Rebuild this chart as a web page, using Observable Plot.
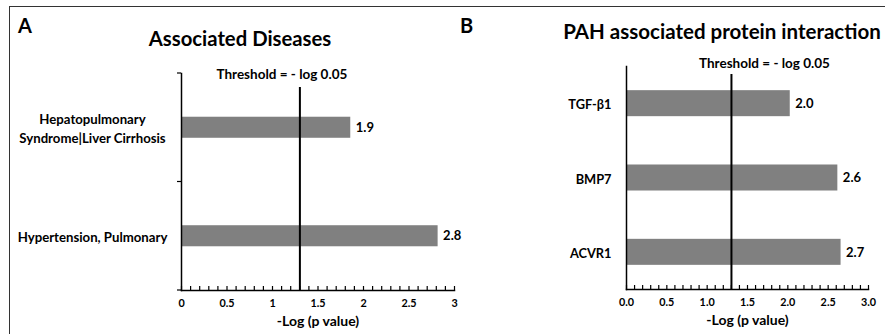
<!DOCTYPE html>
<html><head><meta charset="utf-8">
<script src="https://cdn.jsdelivr.net/npm/d3@7"></script>
<script src="https://cdn.jsdelivr.net/npm/@observablehq/plot@0.6"></script>
<style>
body{margin:0;width:885px;height:334px;overflow:hidden;background:#fff;font-family:Lato,"Open Sans",sans-serif;font-weight:bold;color:#000;position:relative}
.abs{position:absolute;white-space:nowrap;line-height:1}
#border{position:absolute;left:9px;top:6px;width:900px;height:400px;border-left:1.5px solid #333;border-top:1.5px solid #333}
.panel{position:absolute}
</style></head><body>
<div id="border"></div>
<div class="abs" id="letterA" style="left:18px;top:15px;font-size:20px"></div>
<div class="abs" id="letterB" style="left:460px;top:15px;font-size:20px"></div>
<div class="abs" id="titleA" style="left:240px;top:28px;font-size:20.3px;transform:translateX(-50%)"></div>
<div class="abs" id="titleB" style="left:722px;top:21px;font-size:20.5px;transform:translateX(-50%)"></div>
<div class="panel" id="panelA" style="left:0;top:60px"></div>
<div class="panel" id="panelB" style="left:470px;top:55px"></div>
<script>
// ---- data ----
const panelLetters = ["A", "B"];
const panelTitles = ["Associated Diseases", "PAH associated protein interaction"];
const diseaseNames = ["Hepatopulmonary\nSyndrome|Liver Cirrhosis", "Hypertension, Pulmonary"];
const diseaseScores = [1.86, 2.82];
const diseaseLabels = ["1.9", "2.8"];
const proteinNames = ["TGF-β1", "BMP7", "ACVR1"];
const proteinScores = [2.03, 2.62, 2.66];
const proteinLabels = ["2.0", "2.6", "2.7"];
const xTicks = [0, 0.5, 1, 1.5, 2, 2.5, 3];
const xTickLabelsA = ["0", "0.5", "1", "1.5", "2", "2.5", "3"];
const xTickLabelsB = ["0.0", "0.5", "1.0", "1.5", "2.0", "2.5", "3.0"];
const minorTicks = [0,0.1,0.2,0.3,0.4,0.5,0.6,0.7,0.8,0.9,1,1.1,1.2,1.3,1.4,1.5,1.6,1.7,1.8,1.9,2,2.1,2.2,2.3,2.4,2.5,2.6,2.7,2.8,2.9,3];
const threshold = -Math.log10(0.05);
const thresholdLabel = "Threshold = - log 0.05";
const xLabel = "-Log (p value)";

document.getElementById("letterA").textContent = panelLetters[0];
document.getElementById("letterB").textContent = panelLetters[1];
document.getElementById("titleA").textContent = panelTitles[0];
document.getElementById("titleB").textContent = panelTitles[1];

function panel(o) {
  const data = o.names.map((n, i) => ({name: n, value: o.scores[i], label: o.labels[i]}));
  const plotH = o.height - o.marginTop - o.marginBottom;
  const chart = Plot.plot({
    width: o.width, height: o.height,
    marginLeft: o.marginLeft, marginRight: o.marginRight, marginTop: o.marginTop, marginBottom: o.marginBottom,
    style: {fontFamily: "Lato, 'Open Sans', sans-serif", fontWeight: "bold", color: "#000", background: "transparent", overflow: "visible"},
    x: {domain: [0, 3], axis: null},
    y: {domain: o.names, type: "band", paddingInner: o.padding, paddingOuter: o.padding / 2, round: false, axis: null},
    marks: [
      Plot.barX(data, {x: "value", y: "name", fill: "#808080"}),
      Plot.text(data, {x: "value", y: "name", text: "label", textAnchor: "start", dx: 5, fontSize: 13, fontWeight: "bold", fill: "#000"}),
      Plot.axisY({tickSize: 0, tickPadding: o.yPad, textAnchor: o.yAnchor, lineHeight: 1.4, fontSize: o.yFont, fontWeight: "bold", fill: "#000", label: null}),
      Plot.tickX(minorTicks, {x: d => d, insetTop: plotH - 4, stroke: "#000", strokeWidth: 1.2}),
      Plot.axisX({ticks: xTicks, tickFormat: d => o.tickLabels[xTicks.indexOf(d)], tickSize: 0, tickPadding: 9, fontSize: 10.8, fontWeight: "bold", fill: "#000", label: null}),
      Plot.frame({anchor: "left", stroke: "#000", strokeWidth: 1.5}),
      Plot.frame({anchor: "bottom", stroke: "#000", strokeWidth: 1.5}),
      Plot.ruleX([threshold], {stroke: "#000", strokeWidth: 2, insetTop: o.thrInset}),
      Plot.text([threshold], {x: d => d, text: [thresholdLabel], frameAnchor: "top", lineAnchor: "middle", dx: o.thrDx, dy: o.thrDy, fontSize: 13.5, fontWeight: "bold", fill: "#000"}),
      Plot.text([xLabel], {text: d => d, frameAnchor: "bottom", lineAnchor: "middle", dy: 31, fontSize: 14, fontWeight: "bold", fill: "#000"})
    ]
  });
  if (o.catTicks) {
    const ys = chart.scale("y");
    const r0 = Math.min(...ys.range);
    const g = d3.select(chart).append("g").attr("stroke", "#000").attr("stroke-width", 1.2);
    for (let i = 0; i <= o.names.length; i++) {
      const yy = r0 + i * ys.step;
      g.append("line").attr("x1", o.marginLeft - 4).attr("x2", o.marginLeft).attr("y1", yy).attr("y2", yy);
    }
  }
  return chart;
}

document.getElementById("panelA").append(panel({
  names: diseaseNames, scores: diseaseScores, labels: diseaseLabels, tickLabels: xTickLabelsA,
  width: 470, height: 274, marginLeft: 181, marginRight: 16, marginTop: 13, marginBottom: 44,
  padding: 0.806, yPad: 89, yAnchor: "middle", yFont: 13.2,
  thrInset: 14, thrDx: -18, thrDy: 1, catTicks: true
}));
document.getElementById("panelB").append(panel({
  names: proteinNames, scores: proteinScores, labels: proteinLabels, tickLabels: xTickLabelsB,
  width: 415, height: 279, marginLeft: 156, marginRight: 17, marginTop: 11, marginBottom: 45,
  padding: 0.65, yPad: 15, yAnchor: "end", yFont: 12.8,
  thrInset: 8, thrDx: 33, thrDy: -3, catTicks: false
}));
</script>
</body></html>
